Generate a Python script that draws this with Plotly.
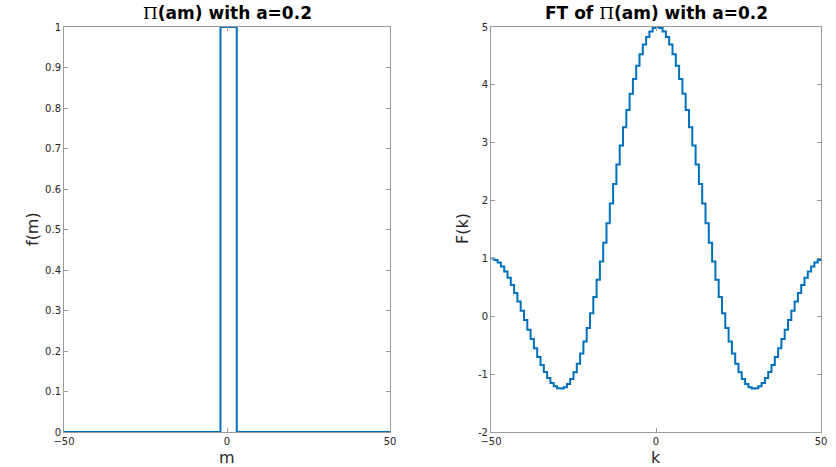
import plotly.graph_objects as go

# data
m = list(range(-50, 51))
f_m = [1 if -2 <= v <= 2 else 0 for v in m]

k = list(range(-50, 51))
F_half = [5.0, 4.981, 4.923, 4.828, 4.696, 4.529, 4.330, 4.101, 3.846, 3.567,
          3.267, 2.951, 2.623, 2.288, 1.948, 1.608, 1.273, 0.947, 0.632, 0.333,
          0.054, -0.204, -0.437, -0.643, -0.821, -0.968, -1.085, -1.170, -1.225, -1.249,
          -1.243, -1.210, -1.151, -1.067, -0.963, -0.840, -0.703, -0.553, -0.394, -0.231,
          -0.066, 0.097, 0.255, 0.404, 0.542, 0.666, 0.773, 0.861, 0.928, 0.974, 0.997]
F_k = F_half[:0:-1] + F_half

left_yticks = [0, 0.1, 0.2, 0.3, 0.4, 0.5, 0.6, 0.7, 0.8, 0.9, 1]
right_yticks = [-2, -1, 0, 1, 2, 3, 4, 5]
xticks = [-50, 0, 50]

W, H = 836, 467
LINE = '#0072BD'
AX = '#9a9a9a'
TXT = '#262626'
FONT = 'DejaVu Sans'

fig = go.Figure()
fig.add_trace(go.Scatter(x=m, y=f_m, mode='lines', line=dict(color=LINE, width=2, shape='hv'),
                         xaxis='x', yaxis='y', showlegend=False))
fig.add_trace(go.Scatter(x=k, y=F_k, mode='lines', line=dict(color=LINE, width=2, shape='hv'),
                         xaxis='x2', yaxis='y2', showlegend=False))

yb, yt = 1 - 432 / H, 1 - 27 / H

def xax(dom, anchor):
    return dict(domain=dom, anchor=anchor, range=[-50, 50], tickvals=xticks,
                ticks='inside', ticklen=4, tickcolor=AX, showline=True, linecolor=AX,
                linewidth=1, mirror='allticks', showgrid=False, zeroline=False,
                automargin=False,
                tickfont=dict(family=FONT, size=10, color=TXT))

def yax(rng, tv, anchor):
    return dict(domain=[yb, yt], anchor=anchor, range=rng, tickvals=tv,
                ticktext=[('%g' % v) for v in tv],
                ticks='inside', ticklen=4, tickcolor=AX, showline=True, linecolor=AX,
                linewidth=1, mirror='allticks', showgrid=False, zeroline=False,
                automargin=False,
                tickfont=dict(family=FONT, size=10, color=TXT))

fig.update_layout(
    width=W, height=H, margin=dict(l=0, r=0, t=0, b=0, autoexpand=False),
    paper_bgcolor='white', plot_bgcolor='white',
    xaxis=xax([64 / W, 390 / W], 'y'),
    yaxis=yax([0, 1], left_yticks, 'x'),
    xaxis2=xax([491 / W, 821 / W], 'y2'),
    yaxis2=yax([-2, 5], right_yticks, 'x2'),
)

PI = '<span style="font-family:DejaVu Serif;font-weight:normal">Π</span>'
anns = [
    dict(x=227 / W, y=1 - 13 / H, text='<b>' + PI + '(am) with a=0.2</b>', size=17),
    dict(x=656 / W, y=1 - 13 / H, text='<b>FT of ' + PI + '(am) with a=0.2</b>', size=17),
    dict(x=227 / W, y=1 - 457 / H, text='m', size=16),
    dict(x=656 / W, y=1 - 457 / H, text='k', size=16),
]
for a in anns:
    fig.add_annotation(x=a['x'], y=a['y'], xref='paper', yref='paper', text=a['text'],
                       showarrow=False, xanchor='center', yanchor='middle',
                       font=dict(family=FONT, size=a['size'], color='black' if a['size'] > 16 else TXT))
fig.add_annotation(x=33 / W, y=1 - 229 / H, xref='paper', yref='paper', text='f(m)', textangle=-90,
                   showarrow=False, xanchor='center', yanchor='middle',
                   font=dict(family=FONT, size=16, color=TXT))
fig.add_annotation(x=463 / W, y=1 - 229 / H, xref='paper', yref='paper', text='F(k)', textangle=-90,
                   showarrow=False, xanchor='center', yanchor='middle',
                   font=dict(family=FONT, size=16, color=TXT))

fig.write_html('out.html')
